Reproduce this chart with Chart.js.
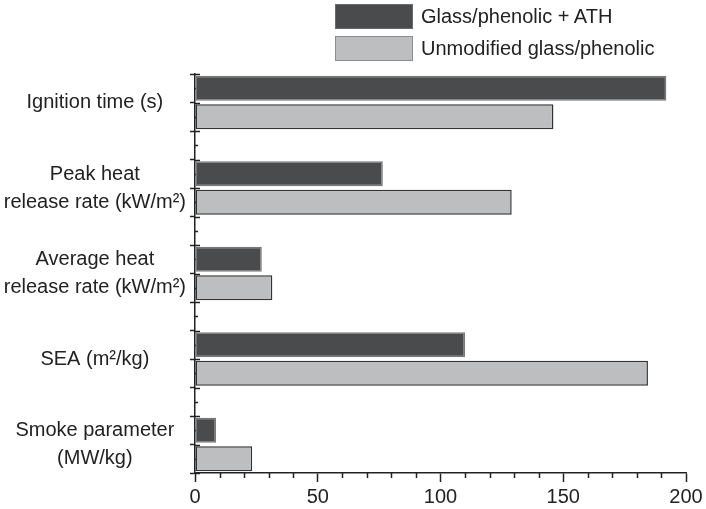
<!DOCTYPE html>
<html>
<head>
<meta charset="utf-8">
<script src="https://cdn.jsdelivr.net/npm/chart.js@4.4.1/dist/chart.umd.min.js"></script>
<style>
  html, body { margin: 0; padding: 0; background: #fff; }
  #wrap { position: relative; width: 706px; height: 509px; }
  #legend { position: absolute; left: 335px; top: 0px; font: 20px "Liberation Sans", Arial, sans-serif; color: #222; }
  .item { display: flex; align-items: center; height: 32px; }
  .box { width: 78px; height: 25px; margin-right: 8px; box-sizing: border-box; border: 1.5px solid; }
</style>
</head>
<body>
<div id="wrap">
  <canvas id="chart" width="706" height="509"></canvas>
  <div id="legend"></div>
</div>
<script>
// ---- data ----
const categories = [
  ['Ignition time (s)'],
  ['Peak heat', 'release rate (kW/m²)'],
  ['Average heat', 'release rate (kW/m²)'],
  ['SEA (m²/kg)'],
  ['Smoke parameter', '(MW/kg)']
];
const seriesLabels = ['Glass/phenolic + ATH', 'Unmodified glass/phenolic'];
const athValues    = [192, 76.5, 27.2, 110, 8.6];
const unmodValues  = [146, 129, 31.5, 184.5, 23.3];
const xTicks = [0, 50, 100, 150, 200];

const FONT = '"Liberation Sans", Arial, sans-serif';
const INK = '#222';
const colors = {
  ath:   { fill: '#4a4b4d', border: '#77787a' },
  unmod: { fill: '#bdbec0', border: '#333333' }
};

// each category takes 3 slots: dark bar, light bar, gap (last gap dropped)
const SLOTS = 3;
const yMax = categories.length * SLOTS - 1;
const athPoints = athValues.map((v, i) => ({ x: v, y: i * SLOTS + 0.5 }));
const unmodPoints = unmodValues.map((v, i) => ({ x: v, y: i * SLOTS + 1.5 }));

// small tick marks the library can't do: inner y ticks, minor ticks
const extraTicks = {
  id: 'extraTicks',
  beforeDatasetsDraw(chart) {
    const { ctx, scales: { x, y } } = chart;
    ctx.save();
    ctx.strokeStyle = INK;
    ctx.lineWidth = 1.5;
    ctx.beginPath();
    for (let v = 0; v <= yMax; v += 0.5) {
      const py = Math.round(y.getPixelForValue(v)) + 0.5;
      const len = Number.isInteger(v) ? 5 : 3;
      ctx.moveTo(x.left, py);
      ctx.lineTo(x.left + len, py);
    }
    for (let v = x.min; v <= x.max; v += 10) {
      if (v % 50 === 0) continue;
      const px = Math.round(x.getPixelForValue(v)) + 0.5;
      ctx.moveTo(px, y.bottom);
      ctx.lineTo(px, y.bottom + 5);
    }
    ctx.stroke();
    ctx.restore();
  }
};

new Chart(document.getElementById('chart'), {
  type: 'bar',
  data: {
    datasets: [
      {
        label: seriesLabels[0],
        data: athPoints,
        backgroundColor: colors.ath.fill,
        borderColor: colors.ath.border,
        borderWidth: 1.5,
        borderSkipped: false
      },
      {
        label: seriesLabels[1],
        data: unmodPoints,
        backgroundColor: colors.unmod.fill,
        borderColor: colors.unmod.border,
        borderWidth: 1.5,
        borderSkipped: false
      }
    ]
  },
  options: {
    responsive: false,
    animation: false,
    indexAxis: 'y',
    grouped: false,
    categoryPercentage: 1,
    barPercentage: 0.87,
    layout: { padding: { top: 74, right: 20, left: 0, bottom: 0 } },
    plugins: {
      legend: { display: false },
      tooltip: { enabled: false }
    },
    scales: {
      x: {
        type: 'linear',
        min: 0, max: 200,
        afterBuildTicks: s => { s.ticks = xTicks.map(v => ({ value: v })); },
        afterFit: s => { s.height = 36; },
        grid: { drawOnChartArea: false, drawTicks: true, tickLength: 9, tickColor: INK, tickWidth: 1.5 },
        border: { display: true, color: INK, width: 1.5 },
        ticks: { color: INK, font: { family: FONT, size: 20 }, padding: 3, maxRotation: 0 }
      },
      y: {
        type: 'linear',
        reverse: true,
        offset: false,
        min: 0, max: yMax,
        afterBuildTicks: s => {
          const t = [];
          for (let v = 0; v <= yMax; v++) t.push({ value: v });
          s.ticks = t;
        },
        afterFit: s => { s.width = 195; },
        grid: { offset: false, drawOnChartArea: false, drawTicks: true, tickLength: 5, tickColor: INK, tickWidth: 1.5 },
        border: { display: true, color: INK, width: 1.5 },
        ticks: {
          color: INK,
          font: { family: FONT, size: 20, lineHeight: 1.4 },
          padding: 4,
          crossAlign: 'center',
          autoSkip: false,
          callback: v => (v % SLOTS === 1 ? categories[(v - 1) / SLOTS] : '')
        }
      }
    }
  },
  plugins: [extraTicks]
});

// legend as two stacked rows, built from the series labels
const legend = document.getElementById('legend');
legend.innerHTML = seriesLabels.map((name, i) => {
  const c = i === 0 ? colors.ath : colors.unmod;
  const border = i === 0 ? '#6a6b6d' : '#8c8d8f';
  return `<div class="item"><div class="box" style="background:${c.fill};border-color:${border}"></div><span>${name}</span></div>`;
}).join('');
</script>
</body>
</html>
